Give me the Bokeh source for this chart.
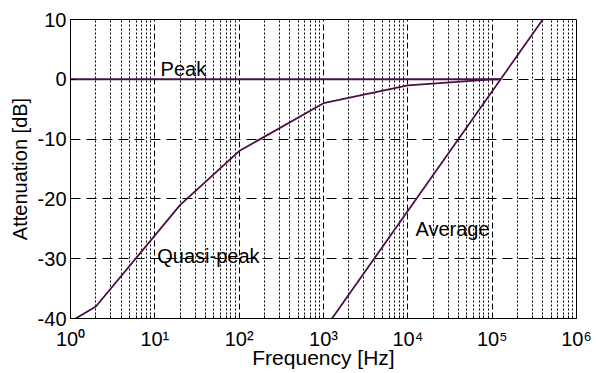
from bokeh.plotting import figure
from bokeh.models import FixedTicker, CustomJSTickFormatter, Range1d
from bokeh.core.properties import value
from bokeh.embed import file_html
from bokeh.resources import INLINE

# ---- data ----
peak_freq = [1, 1.26e5]
peak_att = [0, 0]

qp_freq = [1.15, 2, 20, 100, 1000, 10000, 100000, 1.26e5]
qp_att = [-40, -38, -21, -12, -4, -1, 0, 0]

avg_freq = [1.26e3, 3.98e5]
avg_att = [-40, 10]

x_ticks = [1, 10, 100, 1000, 10000, 100000, 1000000]
x_tick_labels = ["10\u2070", "10\u00b9", "10\u00b2", "10\u00b3", "10\u2074", "10\u2075", "10\u2076"]
x_minor = [m * d for d in [1, 10, 100, 1000, 10000, 100000] for m in range(2, 10)]
y_ticks = [-40, -30, -20, -10, 0, 10]
y_tick_labels = ["-40", "-30", "-20", "-10", "0", "10"]

labels_text = ["Peak", "Quasi-peak", "Average"]
labels_x = [11.7, 10.7, 1.23e4]
labels_y = [1.8, -29.6, -25.0]

FONT = "Liberation Sans"
LINE_COLOR = "#4a0f48"

p = figure(x_axis_type="log", x_range=Range1d(1, 1e6), y_range=Range1d(-40, 10),
           frame_width=506, frame_height=299,
           min_border_left=70, min_border_right=20, min_border_top=19, min_border_bottom=55,
           output_backend="svg", toolbar_location=None)
p.background_fill_color = "white"
p.border_fill_color = "white"
p.outline_line_color = "black"
p.outline_line_width = 1

# axes
p.xaxis.ticker = FixedTicker(ticks=x_ticks, minor_ticks=x_minor)
p.xaxis.formatter = CustomJSTickFormatter(args=dict(lbls=x_tick_labels, tvals=x_ticks),
    code="const i = tvals.indexOf(tick); return i >= 0 ? lbls[i] : String(tick);")
p.yaxis.ticker = FixedTicker(ticks=y_ticks, minor_ticks=[])
p.yaxis.formatter = CustomJSTickFormatter(args=dict(lbls=y_tick_labels, tvals=y_ticks),
    code="const i = tvals.indexOf(tick); return i >= 0 ? lbls[i] : String(tick);")

for ax in (p.xaxis, p.yaxis):
    ax.axis_line_color = "black"
    ax.major_tick_line_color = "black"
    ax.minor_tick_line_color = "black"
    ax.major_tick_in = 5
    ax.major_tick_out = 0
    ax.minor_tick_in = 3
    ax.minor_tick_out = 0
    ax.major_label_text_font = FONT
    ax.major_label_text_font_size = "20px"
    ax.major_label_text_color = "black"
    ax.axis_label_text_font = FONT
    ax.axis_label_text_font_size = "20px"
    ax.axis_label_text_font_style = "normal"
    ax.axis_label_text_color = "black"

p.xaxis.axis_label = "Frequency [Hz]"
p.yaxis.axis_label = "Attenuation [dB]"
p.xaxis.axis_label_text_font_size = "21px"
p.xaxis.major_label_standoff = 9
p.xaxis.axis_label_standoff = -7
p.yaxis.major_label_standoff = 4
p.yaxis.axis_label_standoff = 4

# grids
p.xgrid.grid_line_color = "black"
p.xgrid.grid_line_dash = "6 3"
p.xgrid.grid_line_width = 1
p.xgrid.minor_grid_line_color = "black"
p.xgrid.minor_grid_line_dash = "2 2"
p.xgrid.minor_grid_line_width = 1
p.ygrid.grid_line_color = "black"
p.ygrid.grid_line_dash = "10 6"
p.ygrid.grid_line_width = 1

# curves
p.line(peak_freq, peak_att, line_color=LINE_COLOR, line_width=2)
p.line(qp_freq, qp_att, line_color=LINE_COLOR, line_width=1.8)
p.line(avg_freq, avg_att, line_color=LINE_COLOR, line_width=1.8)

p.text(x=labels_x, y=labels_y, text=labels_text, text_font=value(FONT),
       text_font_size="20px", text_color="black", text_baseline="alphabetic",
       text_align="left")

open("out.html", "w").write(file_html(p, INLINE))
